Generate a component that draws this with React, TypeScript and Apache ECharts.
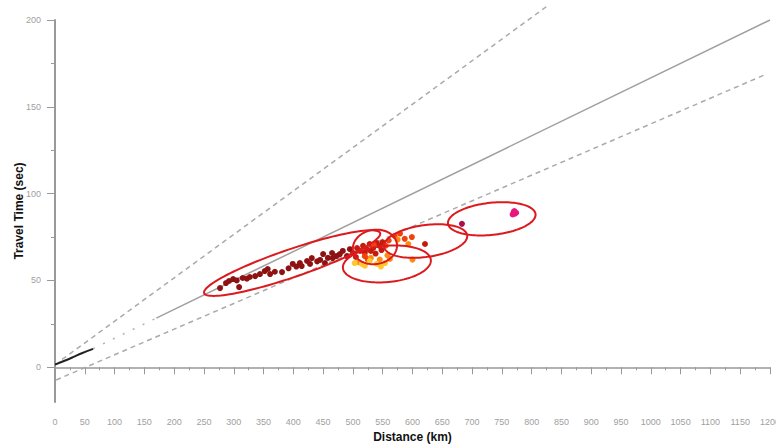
import React, { useEffect, useRef } from "react";
import * as echarts from "echarts";

// ---- data (distance km, travel time sec) ----
const yMajorTicks = [0, 50, 100, 150, 200];
const yMinorTicks = [25, 75, 125, 175];

const solidLine: [number, number][] = [[170, 28.3], [1200, 200]];
const dottedLine: [number, number][] = [[64, 10.7], [170, 28.3]];
const originCurve: [number, number][] = [[0, 1.5], [15, 3.6], [30, 5.8], [45, 8.1], [64, 10.6]];
const upperDashed: [number, number][] = [[12, 4.5], [830, 209]];
const lowerDashed: [number, number][] = [[2, -7.3], [1195, 169]];

// ellipse: centre (d, t), conjugate semi-axis vectors u, v (data units)
const ellipses: number[][] = [
  [398, 60.0, 147.7, 17.3, 7.6, -7.6],
  [537, 69.3, 36.9, 1.7, 3.4, -9.8],
  [557, 59.5, 73.8, 2.3, 2.5, -10.4],
  [622, 72.7, 69.8, 3.3, 3.7, -9.1],
  [733, 85.5, 73.5, 2.7, 2.8, -9.2],
];

const darkRedPts: [number, number][] = [
  [277, 45.6], [287, 48.5], [292, 49.7], [299, 50.8], [305, 50], [309, 46.2], [315, 51.4],
  [322, 51], [327, 52], [336, 52.5], [344, 53.7], [352, 55.4], [357, 56.6], [361, 53.7],
  [369, 55], [381, 54.8], [392, 57], [399, 59.5], [405, 58], [411, 60], [414, 58.3],
  [423, 61.2], [428, 59.5], [431, 62.9], [440, 61], [445, 61.8], [450, 65.2], [453, 60],
  [458, 63], [465, 65.8], [466, 62.9], [472, 64], [478, 65.2], [483, 67], [490, 64], [495, 68],
];
const redPts: [number, number][] = [
  [500, 65.8], [505, 63.5], [507, 68.7], [512, 67], [517, 69.9], [520, 66], [523, 68.1],
  [528, 71], [530, 67], [534, 68.7], [538, 65.5], [540, 71.6], [545, 69.9], [550, 72],
  [548, 67.5], [621, 71],
];
const orangeRedPts: [number, number][] = [
  [520, 64], [535, 70.5], [555, 70], [560, 73], [570, 75.6], [579, 77], [587, 74], [599, 75], [525, 62],
];
const orangePts: [number, number][] = [
  [510, 60.5], [530, 63], [545, 62], [558, 64.5], [562, 62.4], [575, 73.5], [593, 71], [600, 62],
];
const yellowPts: [number, number][] = [
  [503, 60], [515, 59.5], [528, 61.2], [540, 59.5], [554, 60], [520, 58.5], [547, 58],
];
const crimsonPts: [number, number][] = [[683, 82.6]];
const magentaPts: [number, number][] = [[770, 89.5], [772, 88.5], [768, 88], [774, 89], [771, 90]];

const scatter = (data: [number, number][], color: string) => ({
  type: "scatter",
  data,
  symbolSize: 6,
  itemStyle: { color, opacity: 1 },
  z: 3,
});

export default function App() {
  const ref = useRef<HTMLDivElement>(null);
  useEffect(() => {
    if (!ref.current) return;
    const chart = echarts.init(ref.current, null, { renderer: "svg" });
    const font = "Liberation Sans, Arial, sans-serif";
    chart.setOption({
      animation: false,
      backgroundColor: "#ffffff",
      textStyle: { fontFamily: font },
      grid: { left: 55, right: 6, top: 20, bottom: 44, outerBoundsMode: "none", containLabel: false },
      xAxis: {
        type: "value",
        min: 0,
        max: 1200,
        interval: 50,
        name: "Distance (km)",
        nameLocation: "middle",
        nameGap: 29,
        nameMoveOverlap: false,
        nameTextStyle: { fontSize: 12, fontWeight: "bold", color: "#111", fontFamily: font },
        axisLine: { lineStyle: { color: "#999", width: 1.5 } },
        axisTick: { length: 7, lineStyle: { color: "#999" } },
        minorTick: { show: true, splitNumber: 2, length: 3, lineStyle: { color: "#999" } },
        axisLabel: {
          fontSize: 9,
          color: "#a0a0a0",
          margin: 15,
          fontFamily: font,
          hideOverlap: false,
          formatter: (v: number) => String(v),
        },
        splitLine: { show: false },
      },
      yAxis: [
        {
          type: "value",
          min: -20,
          max: 200,
          name: "Travel Time (sec)",
          nameLocation: "middle",
          nameRotate: 90,
          nameGap: 30,
          nameMoveOverlap: false,
          nameTextStyle: { fontSize: 12, fontWeight: "bold", color: "#111", fontFamily: font },
          axisLine: { show: true, lineStyle: { color: "#999", width: 2 } },
          axisTick: { show: true, customValues: yMajorTicks, length: 8, lineStyle: { color: "#999" } },
          axisLabel: { customValues: yMajorTicks, fontSize: 9, color: "#a0a0a0", margin: 14, fontFamily: font },
          splitLine: { show: false },
        },
        {
          type: "value",
          min: -20,
          max: 200,
          position: "left",
          axisLine: { show: false },
          axisTick: { show: true, customValues: yMinorTicks, length: 4, lineStyle: { color: "#999" } },
          axisLabel: { show: false },
          splitLine: { show: false },
        },
      ],
      series: [
        {
          type: "line",
          data: upperDashed,
          showSymbol: false,
          clip: false,
          lineStyle: { color: "#aaa", width: 1.5, type: [5, 4] },
        },
        {
          type: "line",
          data: lowerDashed,
          showSymbol: false,
          clip: false,
          lineStyle: { color: "#aaa", width: 1.5, type: [5, 4] },
        },
        {
          type: "line",
          data: solidLine,
          showSymbol: false,
          clip: false,
          lineStyle: { color: "#a0a0a0", width: 1.5 },
        },
        {
          type: "line",
          data: dottedLine,
          showSymbol: false,
          clip: false,
          lineStyle: { color: "#b0b0b0", width: 1.5, type: [2, 9] },
        },
        {
          type: "line",
          data: originCurve,
          smooth: true,
          showSymbol: false,
          clip: false,
          lineStyle: { color: "#222", width: 2 },
        },
        scatter(darkRedPts, "#8e1212"),
        scatter(redPts, "#c41c0c"),
        scatter(orangeRedPts, "#f0420a"),
        scatter(orangePts, "#ff8a10"),
        scatter(yellowPts, "#ffc830"),
        scatter(crimsonPts, "#a8104e"),
        scatter(magentaPts, "#e8187c"),
        {
          type: "custom",
          clip: false,
          z: 4,
          data: ellipses,
          encode: { x: 0, y: 1 },
          renderItem: (_params: any, api: any) => {
            const cx = api.value(0), cy = api.value(1);
            const ux = api.value(2), uy = api.value(3);
            const vx = api.value(4), vy = api.value(5);
            const pts: number[][] = [];
            const n = 120;
            for (let i = 0; i < n; i++) {
              const a = (i / n) * Math.PI * 2;
              pts.push(api.coord([cx + ux * Math.cos(a) + vx * Math.sin(a), cy + uy * Math.cos(a) + vy * Math.sin(a)]));
            }
            return {
              type: "polygon",
              shape: { points: pts },
              style: { fill: "none", stroke: "#dc1a1e", lineWidth: 2 },
            };
          },
        },
      ],
    });
    return () => chart.dispose();
  }, []);
  return <div ref={ref} style={{ position: "fixed", left: 0, top: 0, width: 776, height: 446, background: "#fff" }} />;
}
